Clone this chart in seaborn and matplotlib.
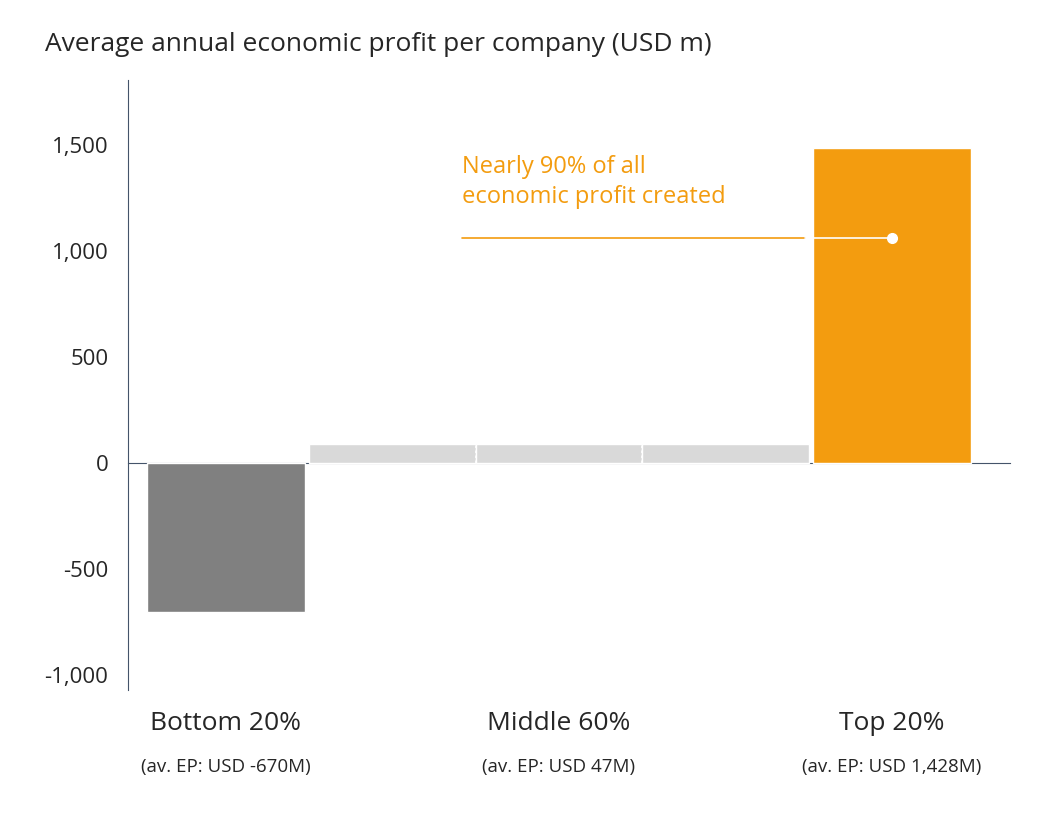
import matplotlib
matplotlib.use("Agg")
import matplotlib.pyplot as plt
import seaborn as sns
import pandas as pd

# data
segments = ["Bottom 20%", "Mid A", "Mid B", "Mid C", "Top 20%"]
values = [-703, 90, 90, 90, 1486]
colors = ["#808080", "#D9D9D9", "#D9D9D9", "#D9D9D9", "#F39C0F"]
group_labels = ["Bottom 20%", "Middle 60%", "Top 20%"]
group_subs = ["(av. EP: USD -670M)", "(av. EP: USD 47M)", "(av. EP: USD 1,428M)"]
group_pos = [0, 2, 4]
yticks = [-1000, -500, 0, 500, 1000, 1500]

sns.set_style("white")
plt.rcParams["font.family"] = ["Open Sans", "DejaVu Sans"]

df = pd.DataFrame({"seg": segments, "val": values})
fig = plt.figure(figsize=(10.39, 8.17), dpi=100)
ax = fig.add_axes([0.123, 0.155, 0.849, 0.747])
sns.barplot(data=df, x="seg", y="val", hue="seg", palette=colors, legend=False,
            width=0.95, ax=ax, saturation=1)

# middle bars touch each other
for i, p in enumerate(ax.patches):
    if i in (1, 2, 3):
        p.set_x(i - 0.5)
        p.set_width(1.0)
for xb in (1.5, 2.5):
    ax.plot([xb, xb], [0, values[2]], color="white", lw=1.2, ls=(0, (1.5, 1.5)))

ax.set_xlim(-0.59, 4.71)
ax.set_ylim(-1071, 1807)
ax.set_yticks(yticks)
ax.set_yticklabels([f"{v:,}" for v in yticks], fontsize=16)
ax.tick_params(axis="y", length=0, pad=14)
ax.set_xticks([])
ax.set_xlabel("")
ax.set_ylabel("")
for s in ("top", "right"):
    ax.spines[s].set_visible(False)
ax.spines["bottom"].set_position(("data", 0))
ax.spines["bottom"].set_color("#44546A")
ax.spines["left"].set_color("#44546A")
ax.spines["bottom"].set_zorder(0.5)

for x, lab, sub in zip(group_pos, group_labels, group_subs):
    ax.text(x, -1170, lab, ha="center", va="top", fontsize=19)
    ax.text(x, -1390, sub, ha="center", va="top", fontsize=13.5)

# annotation
orange = colors[4]
ax.text(1.42, 1200, "Nearly 90% of all\neconomic profit created", color=orange,
        fontsize=17, va="bottom", ha="left", linespacing=1.3)
ax.plot([1.42, 3.48], [1061, 1061], color=orange, lw=1.2)
ax.plot([3.48, 4.0], [1061, 1061], color="white", lw=1.2)
ax.plot([4.0], [1061], "o", color="white", ms=7)

fig.text(0.043, 0.945, "Average annual economic profit per company (USD m)", fontsize=19,
         va="center")
fig.savefig("out.png", dpi=100)
